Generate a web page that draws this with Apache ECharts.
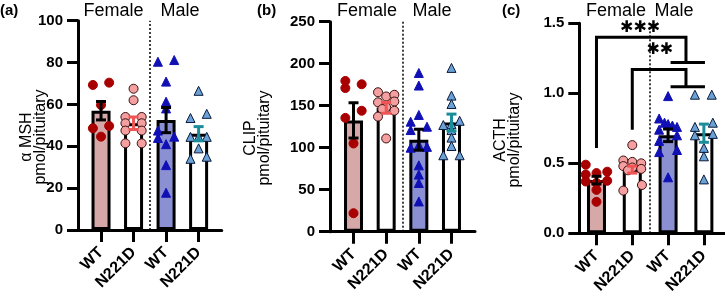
<!DOCTYPE html>
<html>
<head>
<meta charset="utf-8">
<script src="https://cdn.jsdelivr.net/npm/echarts@6/dist/echarts.min.js"></script>
<style>
html, body { margin: 0; padding: 0; background: #fff; }
#chart { width: 725px; height: 301px; }
</style>
</head>
<body>
<div id="chart"></div>
<script>
// 分组
var groups = ['WT', 'N221D', 'WT', 'N221D'];

// (a) αMSH
var aMean = [57, 51, 52.5, 46];
var aSem = [4.4, 3, 6, 3.4];
var aWtF = [69.3, 70.4, 59.7, 48.6, 49.7, 44.6];
var aWtFJit = [-0.25, 0.25, 0, -0.25, 0.25, 0];
var aMutF = [67.5, 62, 54, 54, 51, 51, 47.5, 47.5, 41.4, 41.4];
var aMutFJit = [0, 0, -0.25, 0.25, -0.25, 0.25, -0.25, 0.25, -0.25, 0.25];
var aWtM = [80.4, 81.2, 70.9, 61.3, 58.1, 47.5, 44.6, 44, 41, 31, 17.8];
var aWtMJit = [-0.25, 0.25, 0, 0, 0, -0.25, 0.25, -0.25, 0, 0, 0];
var aMutM = [66.5, 53.5, 55.5, 44.5, 44.5, 44.5, 39, 34, 35];
var aMutMJit = [0, -0.25, 0.25, -0.25, 0, 0.25, 0, -0.25, 0.25];

// (b) CLIP
var bMean = [132.5, 147.5, 109.5, 130];
var bSem = [21, 6.5, 12.5, 10];
var bWtF = [179.5, 175.5, 171, 144, 135.5, 105, 22];
var bWtFJit = [-0.25, 0.25, -0.25, 0.25, -0.25, 0, 0];
var bMutF = [166, 161, 163, 154, 155, 148, 146, 137, 144, 111];
var bMutFJit = [-0.25, 0, 0.25, -0.25, 0.25, 0, -0.12, -0.25, 0.25, 0];
var bWtM = [189, 174, 139, 131, 125, 121, 103, 100, 101, 79, 68, 58, 36];
var bWtMJit = [0, 0, 0, -0.25, 0.25, -0.25, 0, -0.25, 0.25, 0, 0, 0, 0];
var bMutM = [195, 162, 152, 132, 128, 127, 121, 112, 102, 91, 91];
var bMutMJit = [0, 0, 0, 0.25, 0, -0.25, 0, 0, 0, -0.25, 0.25];

// (c) ACTH
var cMean = [0.38, 0.455, 0.70, 0.715];
var cSem = [0.027, 0.025, 0.045, 0.065];
var cWtF = [0.49, 0.44, 0.42, 0.43, 0.37, 0.375, 0.36, 0.31, 0.225];
var cWtFJit = [-0.3, 0.3, -0.3, 0, -0.3, 0.3, 0, 0, 0];
var cMutF = [0.63, 0.52, 0.51, 0.50, 0.48, 0.47, 0.46, 0.45, 0.345, 0.305];
var cMutFJit = [0, -0.25, 0, 0.25, -0.25, 0, 0.25, -0.12, 0.27, -0.25];
var cWtM = [0.98, 0.82, 0.79, 0.78, 0.77, 0.76, 0.74, 0.70, 0.66, 0.58, 0.595, 0.40];
var cWtMJit = [0, -0.25, -0.1, 0, 0.12, 0.25, -0.25, 0.25, -0.25, -0.25, 0.25, 0];
var cMutM = [0.99, 0.99, 0.79, 0.76, 0.71, 0.70, 0.61, 0.55, 0.385];
var cMutMJit = [-0.25, 0.22, 0.25, -0.25, 0.25, -0.25, 0, 0, 0];

// 显著性标记 [起点x, 起点y, 顶部y, 横向终点x, 下落y, 短线起x, 短线止x, 星号x, 星号y]
var sigBrackets = [
	[0, 0.61, 1.40, 2.5, 1.22, 2.07, 3.03, 1.22, 1.464],
	[1, 0.74, 1.17, 2.5, 1.047, 2.07, 3.03, 1.77, 1.31]
];
var sigLabels = ['***', '**'];

// y轴标题
var yTitles = ['α MSH\npmol/pituitary', 'CLIP\npmol/pituitary', 'ACTH\npmol/pituitary'];

var barFill = ['#d6a8a8', '#fff', '#8a90d2', '#fff'];
var errColor = ['#000', '#f05454', '#000', '#1a8c9a'];
var font = 'Liberation Sans, Arial, sans-serif';

var chart = echarts.init(document.getElementById('chart'));

var grids = [
	{left: 78, top: 20.7, width: 143.7, height: 209.3},
	{left: 330, top: 21.7, width: 145, height: 210},
	{left: 579.3, top: 23.3, width: 145.7, height: 210}
];
var xRange = [[-0.708, 3.71], [-0.72, 3.72], [-0.48, 3.59]];
var yCfg = [
	{max: 100, interval: 20, dec: 0},
	{max: 250, interval: 50, dec: 0},
	{max: 1.5, interval: 0.5, dec: 1}
];

function pts(vals, jit, k) {
	return vals.map(function (v, i) { return [k + jit[i], v]; });
}

function renderErr(params, api) {
	var x = api.value(0), m = api.value(1), s = api.value(2);
	var top = api.coord([x, m + s]);
	var bot = api.coord([x, m - s]);
	var c = api.visual('color');
	var w = 5;
	var st = {stroke: c, lineWidth: 3};
	return {
		type: 'group',
		children: [
			{type: 'line', shape: {x1: top[0], y1: top[1], x2: bot[0], y2: bot[1]}, style: st},
			{type: 'line', shape: {x1: top[0] - w, y1: top[1], x2: top[0] + w, y2: top[1]}, style: st},
			{type: 'line', shape: {x1: bot[0] - w, y1: bot[1], x2: bot[0] + w, y2: bot[1]}, style: st}
		]
	};
}

function renderSig(params, api) {
	var p0 = api.coord([api.value(0), api.value(1)]);
	var p1 = api.coord([api.value(0), api.value(2)]);
	var p2 = api.coord([api.value(3), api.value(2)]);
	var p3 = api.coord([api.value(3), api.value(4)]);
	var q0 = api.coord([api.value(5), api.value(4)]);
	var q1 = api.coord([api.value(6), api.value(4)]);
	var t = api.coord([api.value(7), api.value(8)]);
	var st = {stroke: '#000', lineWidth: 3, fill: null};
	return {
		type: 'group',
		children: [
			{type: 'polyline', shape: {points: [p0, p1, p2, p3]}, style: st},
			{type: 'line', shape: {x1: q0[0], y1: q0[1], x2: q1[0], y2: q1[1]}, style: st},
			{type: 'text', style: {
				text: sigLabels[params.dataIndex].replace(/\*/g, '✱'),
				x: t[0], y: t[1], align: 'center', verticalAlign: 'middle',
				fill: '#000', font: '16px DejaVu Sans'
			}}
		]
	};
}

var xAxis = [], yAxis = [], series = [];
var means = [aMean, bMean, cMean];
var sems = [aSem, bSem, cSem];
var scatters = [
	[[aWtF, aWtFJit], [aMutF, aMutFJit], [aWtM, aWtMJit], [aMutM, aMutMJit]],
	[[bWtF, bWtFJit], [bMutF, bMutFJit], [bWtM, bWtMJit], [bMutM, bMutMJit]],
	[[cWtF, cWtFJit], [cMutF, cMutFJit], [cWtM, cWtMJit], [cMutM, cMutMJit]]
];
var dotStyle = [
	{symbol: 'circle', color: '#a80000', border: '#a80000'},
	{symbol: 'circle', color: '#f4a0a0', border: '#3a1010'},
	{symbol: 'triangle', color: '#1010b4', border: '#1010b4'},
	{symbol: 'triangle', color: '#6aa2d8', border: '#0c1a3a'}
];

for (var i = 0; i < 3; i++) {
	xAxis.push({
		gridIndex: i,
		type: 'value',
		min: xRange[i][0],
		max: xRange[i][1],
		splitLine: {show: false},
		axisLine: {show: true, onZero: false, lineStyle: {color: '#000', width: 3}},
		axisTick: {show: true, customValues: [0, 1, 2, 3], length: 12, lineStyle: {color: '#000', width: 3}},
		axisLabel: {
			customValues: [0, 1, 2, 3],
			rotate: 45,
			margin: 20,
			color: '#000',
			fontWeight: 'bold',
			fontSize: 16,
			fontFamily: font,
			formatter: function (v) { return groups[Math.round(v)]; }
		}
	});
	yAxis.push({
		gridIndex: i,
		type: 'value',
		min: 0,
		max: yCfg[i].max,
		interval: yCfg[i].interval,
		splitLine: {show: false},
		axisLine: {show: true, onZero: false, lineStyle: {color: '#000', width: 3}},
		axisTick: {show: true, inside: false, length: 11, lineStyle: {color: '#000', width: 3}},
		axisLabel: {
			margin: 15,
			color: '#000',
			fontWeight: 'bold',
			fontSize: 15,
			fontFamily: font,
			formatter: (function (d) { return function (v) { return v.toFixed(d); }; })(yCfg[i].dec)
		}
	});

	series.push({
		type: 'bar',
		xAxisIndex: i,
		yAxisIndex: i,
		barWidth: 19,
		silent: true,
		z: 2,
		itemStyle: {borderColor: '#000', borderWidth: 3},
		data: means[i].map(function (m, k) {
			return {value: [k, m], itemStyle: {color: barFill[k]}};
		}),
		markLine: {
			silent: true,
			symbol: 'none',
			label: {show: false},
			lineStyle: {type: [2, 2], color: '#000', width: 1.5},
			data: [{xAxis: 1.5}]
		}
	});
	for (var k = 0; k < 4; k++) {
		series.push({
			type: 'scatter',
			xAxisIndex: i,
			yAxisIndex: i,
			symbol: dotStyle[k].symbol,
			symbolSize: 9,
			silent: true,
			z: 3,
			itemStyle: {color: dotStyle[k].color, borderColor: dotStyle[k].border, borderWidth: 1, opacity: 1},
			data: pts(scatters[i][k][0], scatters[i][k][1], k)
		});
	}
	series.push({
		type: 'custom',
		xAxisIndex: i,
		yAxisIndex: i,
		silent: true,
		z: 4,
		renderItem: renderErr,
		data: means[i].map(function (m, k) {
			return {value: [k, m, sems[i][k]], itemStyle: {color: errColor[k]}};
		})
	});
}

series.push({
	type: 'custom',
	xAxisIndex: 2,
	yAxisIndex: 2,
	silent: true,
	z: 5,
	clip: false,
	renderItem: renderSig,
	data: sigBrackets
});

function label(txt, x, bold, size, align) {
	return {
		type: 'text',
		x: x,
		y: 11,
		style: {
			text: txt,
			fill: '#000',
			font: (bold ? 'bold ' : '') + size + 'px ' + font,
			align: align,
			textAlign: align,
			verticalAlign: 'middle',
			textVerticalAlign: 'middle'
		}
	};
}

function yTitle(txt, x, y) {
	return {
		type: 'text',
		x: x,
		y: y,
		rotation: Math.PI / 2,
		style: {
			text: txt,
			fill: '#000',
			font: '16px ' + font,
			lineHeight: 14,
			align: 'center',
			textAlign: 'center',
			verticalAlign: 'middle',
			textVerticalAlign: 'middle'
		}
	};
}

chart.setOption({
	animation: false,
	grid: grids,
	xAxis: xAxis,
	yAxis: yAxis,
	series: series,
	graphic: [
		label('(a)', 0, true, 15, 'left'),
		label('(b)', 257, true, 15, 'left'),
		label('(c)', 502, true, 15, 'left'),
		label('Female', 113.5, false, 18, 'center'),
		label('Male', 180, false, 18, 'center'),
		label('Female', 367, false, 18, 'center'),
		label('Male', 432, false, 18, 'center'),
		label('Female', 616, false, 18, 'center'),
		label('Male', 674, false, 18, 'center'),
		yTitle(yTitles[0], 34, 137),
		yTitle(yTitles[1], 258, 138),
		yTitle(yTitles[2], 508, 140)
	]
});
</script>
</body>
</html>
